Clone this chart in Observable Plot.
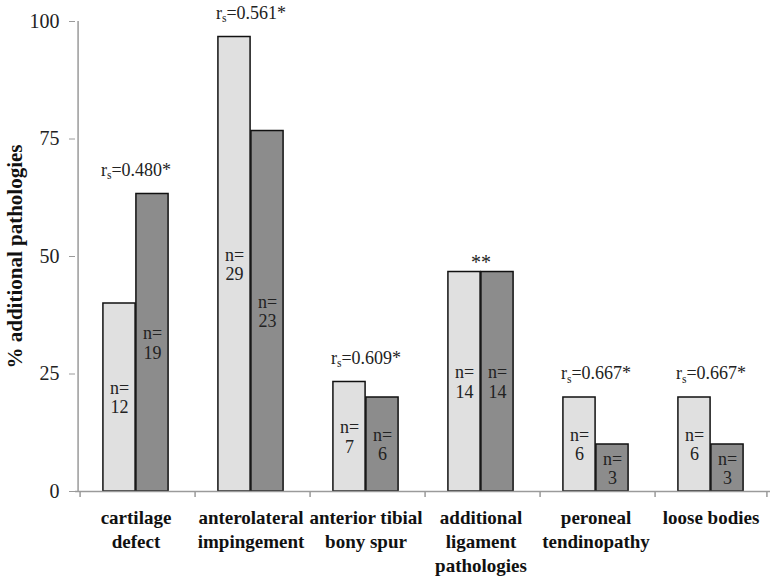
<!DOCTYPE html>
<html>
<head>
<meta charset="utf-8">
<script src="https://cdn.jsdelivr.net/npm/d3@7"></script>
<script src="https://cdn.jsdelivr.net/npm/@observablehq/plot@0.6"></script>
<style>
  html, body { margin: 0; padding: 0; background: #fff; }
  #chart svg { display: block; }
  #chart svg text { font-family: "Liberation Serif", "DejaVu Serif", serif; }
</style>
</head>
<body>
<div id="chart"></div>
<script>
const categories = ["cartilage\ndefect", "anterolateral\nimpingement", "anterior tibial\nbony spur", "additional\nligament\npathologies", "peroneal\ntendinopathy", "loose bodies"];
const lightPct = [40.0, 96.7, 23.3, 46.7, 20.0, 20.0];
const darkPct = [63.3, 76.7, 20.0, 46.7, 10.0, 10.0];
const lightN = [12, 29, 7, 14, 6, 6];
const darkN = [19, 23, 6, 14, 3, 3];
const annotations = ["r_s=0.480*", "r_s=0.561*", "r_s=0.609*", "**", "r_s=0.667*", "r_s=0.667*"];
const yTicks = [0, 25, 50, 75, 100];

const data = categories.map((c, i) => ({
  cat: c, light: lightPct[i], dark: darkPct[i], nL: lightN[i], nD: darkN[i],
  top: Math.max(lightPct[i], darkPct[i]), note: annotations[i]
}));

const W = 770, H = 576, ML = 75, MR = 0, MT = 21, MB = 85;
const bw = (W - ML - MR) / categories.length;
const half = bw / 2;
const barW = 33;
const axisGrey = "#9a9a9a";
const serif = "Liberation Serif";

const svg = Plot.plot({
  width: W, height: H,
  marginLeft: ML, marginRight: MR, marginTop: MT, marginBottom: MB,
  style: { fontFamily: serif, background: "#fff", color: "#222" },
  x: { domain: categories, padding: 0, axis: null },
  y: { domain: [0, 100], axis: null },
  marks: [
    Plot.barY(data, { x: "cat", y: "light", fill: "#e0e0e0", stroke: "#111", strokeWidth: 1.5, insetLeft: half - barW, insetRight: half }),
    Plot.barY(data, { x: "cat", y: "dark", fill: "#8c8c8c", stroke: "#111", strokeWidth: 1.5, insetLeft: half, insetRight: half - barW }),
    Plot.ruleY([0], { stroke: axisGrey, strokeWidth: 1.5 }),
    Plot.ruleX([categories[0]], { x: d => d, y1: 0, y2: 100, dx: -half, stroke: axisGrey, strokeWidth: 1.5 }),
    Plot.ruleX(categories, { x: d => d, y1: 0, y2: 0, insetBottom: -6, dx: -half + 2, stroke: axisGrey, strokeWidth: 1.5 }),
    Plot.ruleX([categories[categories.length - 1]], { x: d => d, y1: 0, y2: 0, insetBottom: -6, dx: half - 2, stroke: axisGrey, strokeWidth: 1.5 }),
    Plot.axisY({ ticks: yTicks, tickSize: 6, tickPadding: 10, fontSize: 20, fontFamily: serif, stroke: axisGrey, fill: "#222", label: null }),
    Plot.axisX({ tickSize: 0, tickPadding: 15, fontSize: 19, fontWeight: "bold", fontFamily: serif, lineHeight: 1.27, fill: "#111", label: null }),
    Plot.text(data, { x: "cat", y: d => d.light / 2, text: d => `n=\n${d.nL}`, dx: -barW / 2, fontSize: 18, fontFamily: serif, lineHeight: 1.08, fill: "#222" }),
    Plot.text(data, { x: "cat", y: d => d.dark / 2, text: d => `n=\n${d.nD}`, dx: barW / 2, fontSize: 18, fontFamily: serif, lineHeight: 1.08, fill: "#222" }),
    Plot.text(data.filter(d => d.note !== "**"), { x: "cat", y: "top", text: "note", dy: -24, fontSize: 18, fontFamily: serif, fill: "#222" }),
    Plot.text(data.filter(d => d.note === "**"), { x: "cat", y: "top", text: "note", dy: -9, fontSize: 20, fontFamily: serif, fill: "#222" }),
    Plot.text([0], { frameAnchor: "left", textAnchor: "middle", text: () => "% additional pathologies", rotate: -90, dx: -60, fontSize: 21, fontWeight: "bold", fontFamily: serif, fill: "#111" })
  ]
});

// subscript "s" in r_s labels
svg.querySelectorAll("text").forEach(t => {
  if (t.childElementCount === 0 && t.textContent.startsWith("r_s")) {
    const rest = t.textContent.slice(3);
    t.textContent = "";
    const ns = "http://www.w3.org/2000/svg";
    const a = document.createElementNS(ns, "tspan"); a.textContent = "r";
    const b = document.createElementNS(ns, "tspan"); b.textContent = "s";
    b.setAttribute("dy", "0.3em"); b.setAttribute("font-size", "0.65em");
    const c = document.createElementNS(ns, "tspan"); c.textContent = rest;
    c.setAttribute("dy", "-0.2em");
    t.append(a, b, c);
  }
});

document.getElementById("chart").append(svg);
</script>
</body>
</html>
